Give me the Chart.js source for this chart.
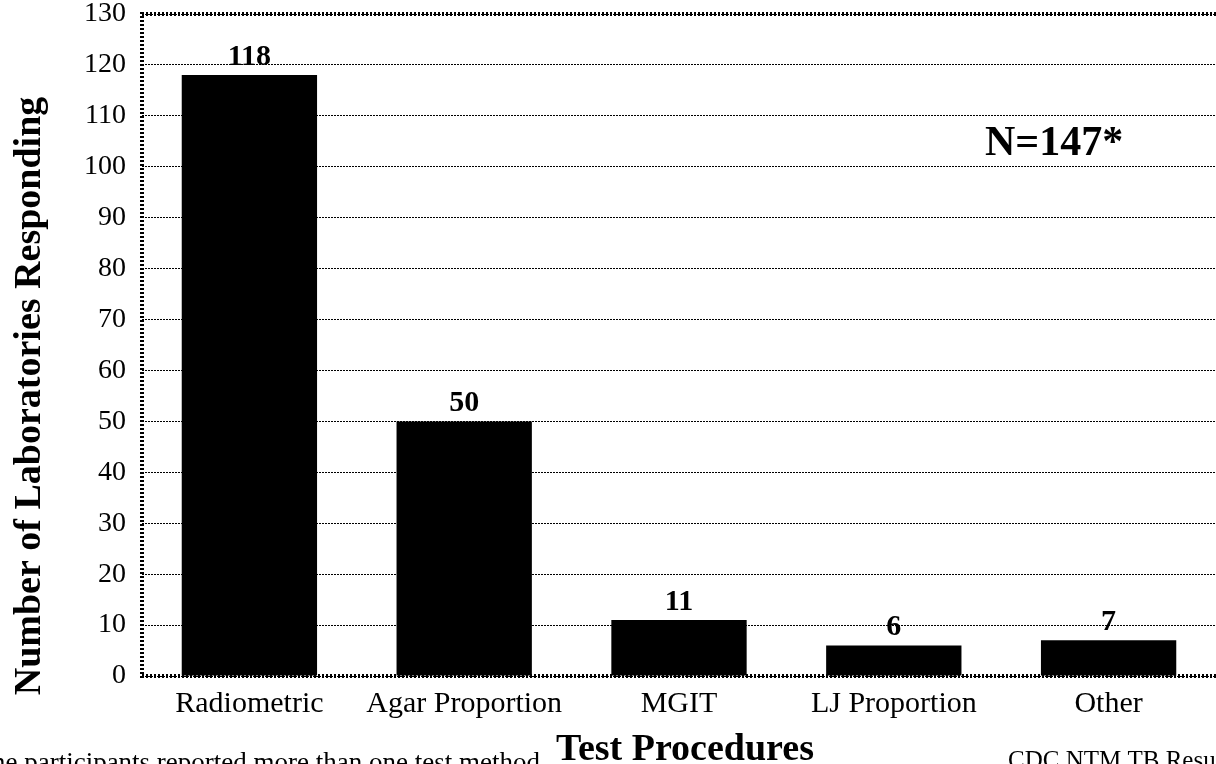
<!DOCTYPE html>
<html>
<head>
<meta charset="utf-8">
<script src="https://cdn.jsdelivr.net/npm/chart.js@4.4.1/dist/chart.umd.min.js"></script>
<style>
  html, body { margin: 0; padding: 0; background: #fff; }
  #wrap { width: 1216px; height: 764px; }
</style>
</head>
<body>
<div id="wrap"><canvas id="myChart" width="1216" height="764"></canvas></div>
<script>
const categories = ['Radiometric', 'Agar Proportion', 'MGIT', 'LJ Proportion', 'Other'];
const labs = [118, 50, 11, 6, 7];
const yMin = 0;
const yMax = 130;
const yStep = 10;

const serif = "'Liberation Serif', 'Times New Roman', serif";
const ctx = document.getElementById('myChart');

// borders, value labels and the loose texts round the plot
const extras = {
  id: 'extras',
  afterDraw(chart) {
    const c = chart.ctx;
    const a = chart.chartArea;
    c.save();

    // thick checkered axis lines
    c.strokeStyle = '#000';
    c.lineWidth = 4;
    c.setLineDash([2, 2]);
    c.beginPath();
    c.moveTo(a.left, a.top - 2);
    c.lineTo(a.left, a.bottom + 2);
    c.moveTo(a.left, a.bottom);
    c.lineTo(a.right, a.bottom);
    c.moveTo(a.left, a.top);
    c.lineTo(a.right, a.top);
    c.stroke();
    c.setLineDash([]);

    // values above the bars
    c.fillStyle = '#000';
    c.font = 'bold 30px ' + serif;
    c.textAlign = 'center';
    c.textBaseline = 'alphabetic';
    chart.getDatasetMeta(0).data.forEach((bar, i) => {
      c.fillText(labs[i], bar.x, bar.y - 10);
    });

    c.font = 'bold 42px ' + serif;
    c.textAlign = 'left';
    c.fillText('N=147*', 985, 155);

    c.font = 'bold 38px ' + serif;
    c.textAlign = 'center';
    c.fillText('Test Procedures', 685, 760);

    c.font = '27px ' + serif;
    c.textAlign = 'right';
    c.fillText('*Some participants reported more than one test method', 540, 771);

    c.font = '25px ' + serif;
    c.textAlign = 'left';
    c.fillText('CDC NTM TB Results', 1008, 768);

    // y title
    c.translate(30, 396);
    c.rotate(-Math.PI / 2);
    c.font = 'bold 38px ' + serif;
    c.textAlign = 'center';
    c.textBaseline = 'middle';
    c.fillText('Number of Laboratories Responding', 0, 0);

    c.restore();
  }
};

new Chart(ctx, {
  type: 'bar',
  data: {
    labels: categories,
    datasets: [{
      label: '',
      data: labs,
      backgroundColor: '#000',
      borderWidth: 0,
      barPercentage: 0.63,
      categoryPercentage: 1
    }]
  },
  options: {
    responsive: false,
    animation: false,
    devicePixelRatio: 1,
    layout: {
      padding: { top: 14, right: 0, bottom: 0, left: 0 }
    },
    plugins: {
      legend: { display: false },
      tooltip: { enabled: false }
    },
    scales: {
      x: {
        grid: { display: false, drawTicks: false },
        border: { display: false },
        ticks: {
          color: '#000',
          padding: 10,
          font: { family: serif, size: 30 }
        },
        afterFit(scale) {
          scale.height = 88;
          scale.paddingLeft = 0;
          scale.paddingRight = 0;
        }
      },
      y: {
        min: yMin,
        max: yMax,
        grid: { color: '#000', lineWidth: 1, drawTicks: false },
        border: { display: false, dash: [2, 1] },
        ticks: {
          stepSize: yStep,
          color: '#000',
          padding: 16,
          font: { family: serif, size: 28, lineHeight: 1 }
        },
        afterFit(scale) {
          scale.width = 142;
          scale.paddingTop = 0;
          scale.paddingBottom = 0;
        }
      }
    }
  },
  plugins: [extras]
});
</script>
</body>
</html>
